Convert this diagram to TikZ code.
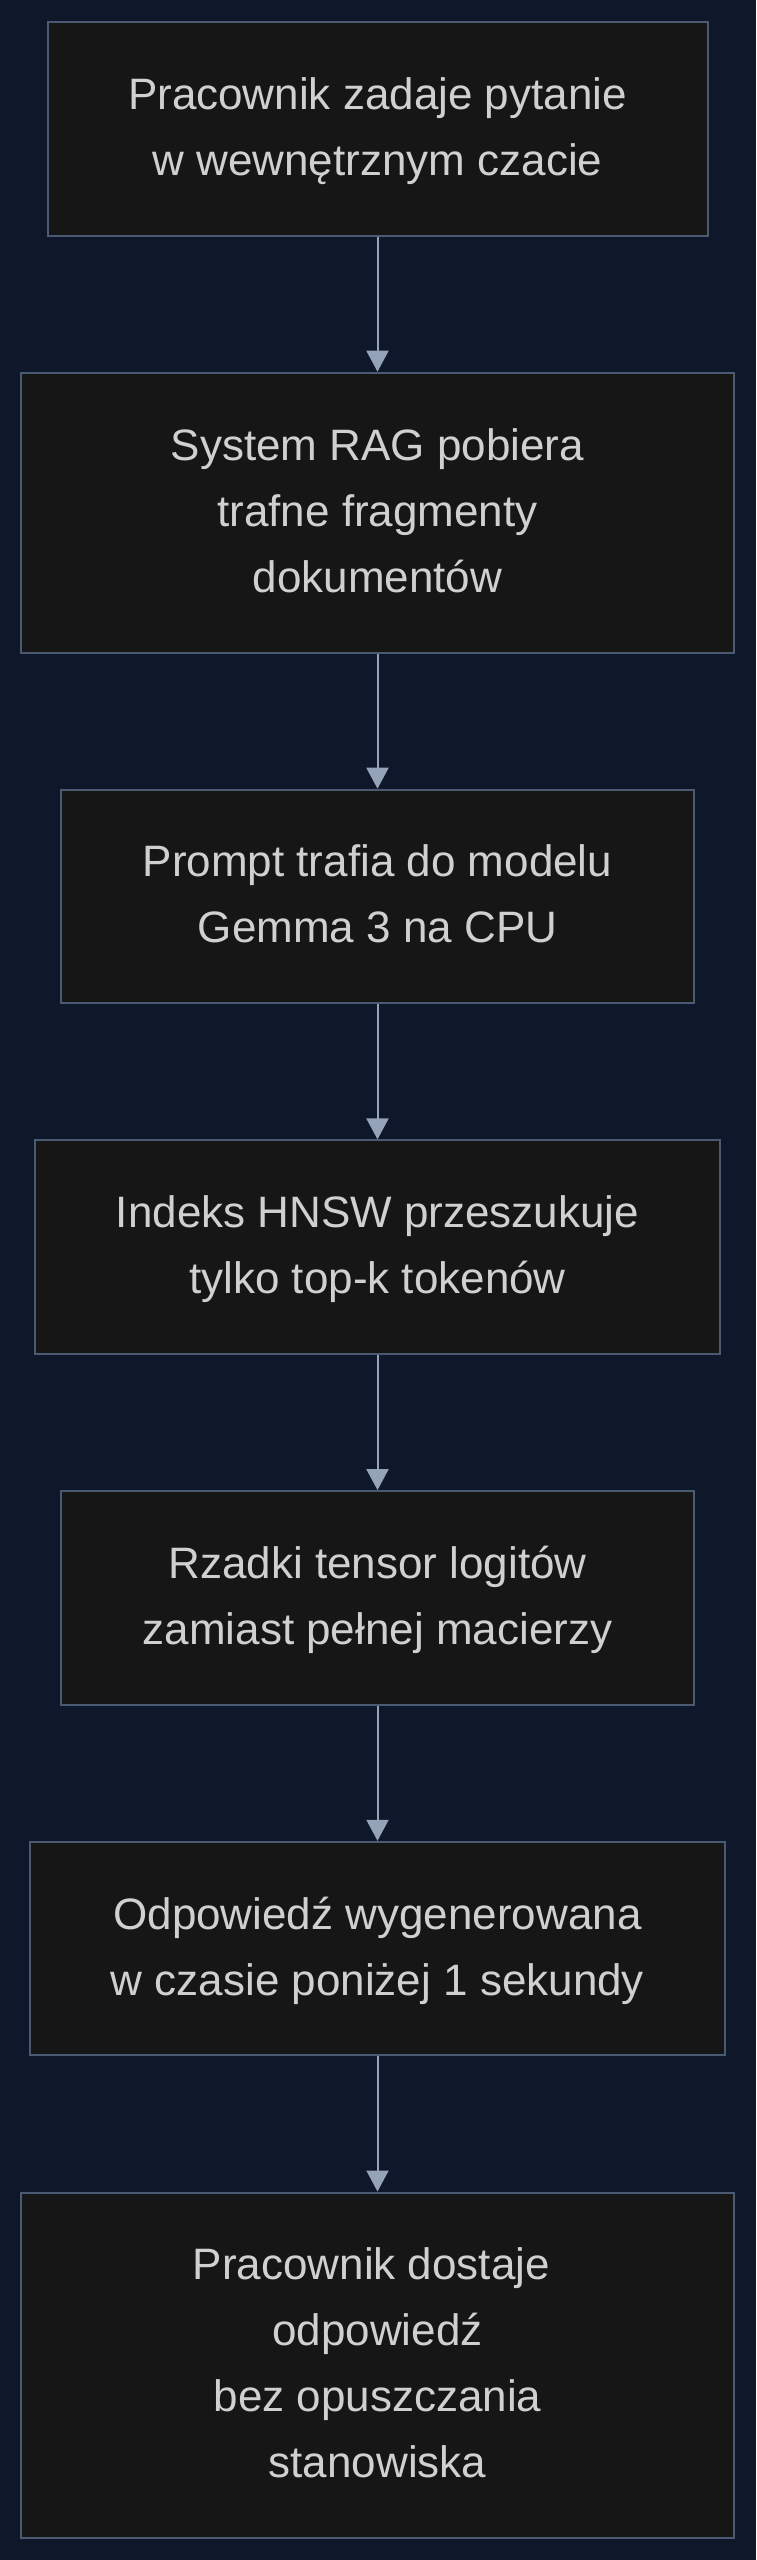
\documentclass[tikz,border=0pt]{standalone}
\usepackage{fontspec}
\setmainfont{Liberation Sans}
\usetikzlibrary{arrows.meta}
\definecolor{bgc}{HTML}{0F172A}
\definecolor{boxfill}{HTML}{161616}
\definecolor{boxline}{HTML}{4A5A73}
\definecolor{txtc}{HTML}{D0D0D0}
\definecolor{arrc}{HTML}{94A3B8}
\newcommand{\sline}[1]{\rule[-19.5pt]{0pt}{66pt}#1}
\newcommand{\tsp}{\hspace*{12.2pt}}
\tikzset{
  flowbox/.style={rectangle, draw=boxline, line width=2pt, fill=boxfill,
    text=txtc, align=center, inner sep=0pt,
    font=\fontsize{44}{66}\selectfont},
  flowarrow/.style={draw=arrc, line width=2pt,
    -{Triangle[length=21pt,width=22pt]}, arrc}
}
\begin{document}
\begin{tikzpicture}[x=1pt,y=-1pt]
\fill[bgc] (0,0) rectangle (756,2560);
\useasboundingbox (0,0) rectangle (756,2560);
\node[flowbox, minimum width=660pt, minimum height=213.5pt] (n1) at (377.5,128.75)
  {\sline{Pracownik zadaje pytanie}\\\sline{w wewnętrznym czacie}};
\node[flowbox, minimum width=712.5pt, minimum height=280pt] (n2) at (377.5,512.7)
  {\sline{System RAG pobiera}\\\sline{trafne fragmenty\tsp}\\\sline{dokumentów}};
\node[flowbox, minimum width=633pt, minimum height=213.5pt] (n3) at (377.5,896.45)
  {\sline{Prompt trafia do modelu}\\\sline{Gemma 3 na CPU}};
\node[flowbox, minimum width=685pt, minimum height=213.5pt] (n4) at (377.5,1247.15)
  {\sline{Indeks HNSW przeszukuje}\\\sline{tylko top-k tokenów}};
\node[flowbox, minimum width=633pt, minimum height=213.5pt] (n5) at (377.5,1597.85)
  {\sline{Rzadki tensor logitów}\\\sline{zamiast pełnej macierzy}};
\node[flowbox, minimum width=695pt, minimum height=213.5pt] (n6) at (377.5,1948.55)
  {\sline{Odpowiedź wygenerowana}\\\sline{w czasie poniżej 1 sekundy}};
\node[flowbox, minimum width=712.5pt, minimum height=345pt] (n7) at (377.5,2365)
  {\sline{Pracownik dostaje\tsp}\\\sline{odpowiedź}\\\sline{bez opuszczania\tsp}\\\sline{stanowiska}};
\draw[flowarrow] (n1.south) -- (n2.north);
\draw[flowarrow] (n2.south) -- (n3.north);
\draw[flowarrow] (n3.south) -- (n4.north);
\draw[flowarrow] (n4.south) -- (n5.north);
\draw[flowarrow] (n5.south) -- (n6.north);
\draw[flowarrow] (n6.south) -- (n7.north);
\end{tikzpicture}
\end{document}
